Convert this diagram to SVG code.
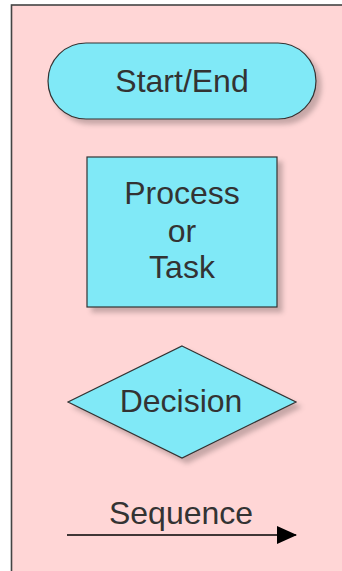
<svg xmlns="http://www.w3.org/2000/svg" width="342" height="571" viewBox="0 0 342 571">
  <defs>
    <filter id="drop" x="-20%" y="-20%" width="150%" height="150%">
      <feGaussianBlur in="SourceAlpha" stdDeviation="2.5"/>
      <feOffset dx="5" dy="5" result="b"/>
      <feFlood flood-color="#000" flood-opacity="0.22"/>
      <feComposite in2="b" operator="in"/>
      <feMerge><feMergeNode/><feMergeNode in="SourceGraphic"/></feMerge>
    </filter>
    <marker id="arrow" viewBox="0 0 20 18" refX="19" refY="9" markerWidth="20" markerHeight="18" markerUnits="userSpaceOnUse" orient="auto">
      <path d="M0,0 L20,9 L0,18 Z" fill="#000"/>
    </marker>
    <style>
      .shape { fill: #80E9F7; stroke: #333; stroke-width: 1.2; filter: url(#drop); }
      .label { font-family: "Liberation Sans", Arial, sans-serif; font-size: 32px; fill: #333; text-anchor: middle; }
    </style>
  </defs>

  <rect width="342" height="571" fill="#fff"/>
  <!-- page frame -->
  <rect x="11.5" y="5" width="340" height="580" fill="#FFD6D6" stroke="#444" stroke-width="1.6"/>

  <g id="start-end">
    <rect class="shape" x="48" y="43" width="268" height="76" rx="38" ry="38"/>
    <text class="label" x="182" y="92">Start/End</text>
  </g>

  <g id="process">
    <rect class="shape" x="87" y="157" width="190" height="150"/>
    <text class="label" x="182" y="204">Process</text>
    <text class="label" x="182" y="242">or</text>
    <text class="label" x="182" y="278">Task</text>
  </g>

  <g id="decision">
    <polygon class="shape" points="182,346 296,402 182,458 68,402"/>
    <text class="label" x="181" y="412">Decision</text>
  </g>

  <g id="connectors">
    <line x1="67" y1="535" x2="296" y2="535" stroke="#000" stroke-width="1.3" marker-end="url(#arrow)"/>
    <text class="label" x="181" y="524">Sequence</text>
  </g>
</svg>
